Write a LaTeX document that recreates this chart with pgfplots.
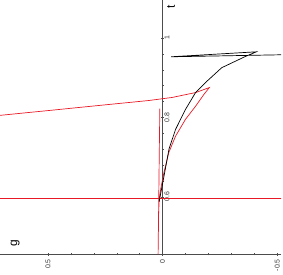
\documentclass[border=0pt]{standalone}
\usepackage{pgfplots}
\pgfplotsset{compat=1.18}
\usepackage{fontspec}
\setmainfont{Liberation Sans}
\definecolor{mred}{RGB}{232,24,36}
\begin{document}
\begin{tikzpicture}
\begin{axis}[
 scale only axis, width=283pt, height=256pt,
 x dir=reverse,
 xmin=-0.517, xmax=0.708, ymin=0.455, ymax=1.095,
 axis x line=bottom, axis y line=middle,
 axis line style={-, black!70, line width=0.4pt},
 xtick={-0.5,0,0.5}, ytick={0.6,0.8,1},
 minor x tick num=4, minor y tick num=4,
 major tick length=3pt, minor tick length=2pt,
 tick style={black!70, line width=0.3pt},
 /pgf/number format/assume math mode=true,
 ticklabel style={font=\fontsize{7}{8}\selectfont, text=black!80},
 xticklabel style={rotate=90, anchor=east},
 yticklabel style={rotate=90, anchor=north},
 clip mode=individual,
]
\addplot[draw=mred, line width=0.7pt] table {
x y
0.8 0.597
-0.6 0.597
};
\addplot[draw=mred, line width=0.7pt] coordinates {
(0.8,0.800) (0.708,0.805) (0.491,0.8175) (0.275,0.83) (0.058,0.8425) (-0.041,0.85) (-0.145,0.8625) (-0.204,0.875)
(-0.180,0.8575) (-0.144,0.828) (-0.100,0.795) (-0.057,0.753) (-0.028,0.7125) (-0.0065,0.6625) (0.008,0.62) (0.015,0.5875) (0.017,0.56) (0.0195,0.455)
(0.012,0.822)};
\addplot[black, line width=0.7pt] coordinates {
(0.015,0.5875) (-0.0065,0.6525) (-0.028,0.72) (-0.057,0.77) (-0.100,0.82) (-0.144,0.8625) (-0.187,0.8875) (-0.258,0.925) (-0.331,0.945) (-0.360,0.953) (-0.409,0.965)
(-0.037,0.9525) (-0.6,0.9584)};
\node[rotate=90, font=\fontsize{12}{13}\selectfont] at (axis cs:-0.037,1.078) {t};
\node[rotate=90, font=\fontsize{12}{13}\selectfont] at (axis cs:0.643,0.4825) {g};
\end{axis}
\end{tikzpicture}
\end{document}
